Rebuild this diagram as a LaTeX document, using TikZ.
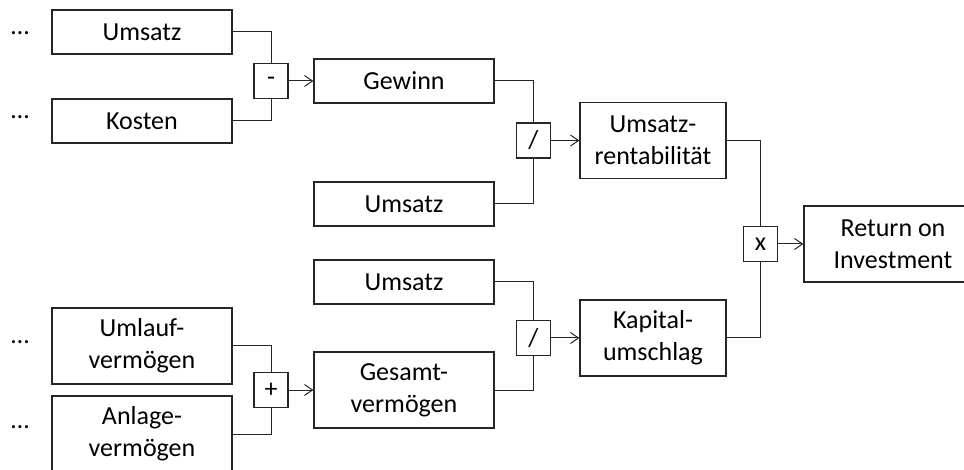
\documentclass[tikz,border=0pt]{standalone}
\usepackage{fontspec}
\setmainfont{Carlito}
\usetikzlibrary{arrows.meta}
\begin{document}
\begin{tikzpicture}[x=1pt,y=-1pt,
  every node/.style={font=\fontsize{26}{32}\selectfont},
  box/.style={draw=black!85, line width=1.3pt, rectangle, inner sep=0pt, align=center, minimum width=180pt, minimum height=44pt},
  tall/.style={box, minimum height=76pt},
  narrow/.style={tall, minimum width=146pt},
  opbox/.style={draw=black!85, line width=1.3pt, rectangle, inner sep=0pt, minimum width=34pt, minimum height=35pt},
  conn/.style={draw=black!85, line width=1pt},
  arr/.style={conn, -{Straight Barb[length=8pt,width=11pt,line width=1pt]}},
  dots/.style={anchor=base, inner sep=0pt}]
\useasboundingbox (0,0) rectangle (964,470);
\clip (0,0) rectangle (964,470);
% left column
\node[box] (u1) at (142,32) {Umsatz};
\node[box] (ko) at (142,121) {Kosten};
\node[tall] (ul) at (142,346) {Umlauf-\\vermögen};
\node[tall] (an) at (142,434) {Anlage-\\vermögen};
% dots
\node[dots] (d1) at (20,35) {…};
\node[dots] (d2) at (20,118.5) {…};
\node[dots] (d3) at (20,343.5) {…};
\node[dots] (d4) at (20,428.5) {…};
% operators
\node[opbox] (mi) at (271,81) {-};
\node[opbox] (pl) at (271,390) {+};
\node[opbox] (dv1) at (533.5,140.5) {/};
\node[opbox] (dv2) at (533.5,338) {/};
\node[opbox] (ti) at (760.5,244) {x};
% middle column
\node[box] (ge) at (404,81) {Gewinn};
\node[box] (u2) at (404,204) {Umsatz};
\node[box] (u3) at (404,282) {Umsatz};
\node[tall] (gv) at (404,390) {Gesamt-\\vermögen};
% right column
\node[narrow] (ur) at (653,140.5) {Umsatz-\\rentabilität};
\node[narrow] (ka) at (653,338) {Kapital-\\umschlag};
\node[tall, minimum width=178pt] (roi) at (893,244) {Return on\\Investment};
% connectors
\draw[conn] (u1.east) -| (mi.north);
\draw[conn] (ko.east) -| (mi.south);
\draw[arr] (mi.east) -- (ge.west);
\draw[conn] (ul.east) -| (pl.north);
\draw[conn] (an.east) -| (pl.south);
\draw[arr] (pl.east) -- (gv.west);
\draw[conn] (ge.east) -| (dv1.north);
\draw[conn] (u2.east) -| (dv1.south);
\draw[arr] (dv1.east) -- (ur.west);
\draw[conn] (u3.east) -| (dv2.north);
\draw[conn] (gv.east) -| (dv2.south);
\draw[arr] (dv2.east) -- (ka.west);
\draw[conn] (ur.east) -| (ti.north);
\draw[conn] (ka.east) -| (ti.south);
\draw[arr] (ti.east) -- (roi.west);
\end{tikzpicture}
\end{document}
